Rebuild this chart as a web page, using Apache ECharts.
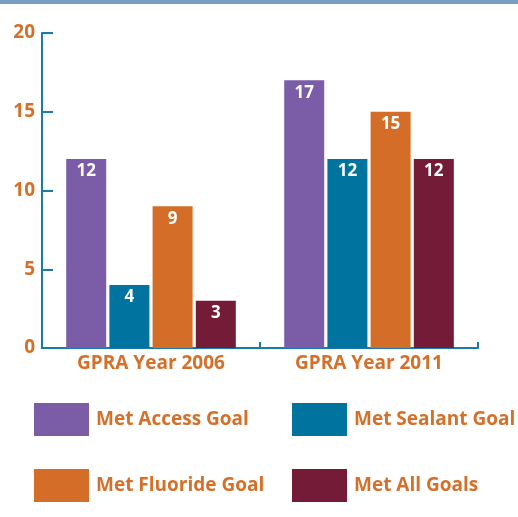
<!DOCTYPE html>
<html><head><meta charset="utf-8">
<script src="https://cdn.jsdelivr.net/npm/echarts@6/dist/echarts.min.js"></script>
<style>html,body{margin:0;padding:0;background:#fff}#c{width:518px;height:517px}</style>
</head><body><div id="c"></div>
<script>
const categories = ['GPRA Year 2006', 'GPRA Year 2011'];
const seriesNames = ['Met Access Goal', 'Met Sealant Goal', 'Met Fluoride Goal', 'Met All Goals'];
const accessGoal = [12, 17];
const sealantGoal = [4, 12];
const fluorideGoal = [9, 15];
const allGoals = [3, 12];
const yTicks = [0, 5, 10, 15, 20];

const colors = ['#7a5ca7', '#00739f', '#d36d27', '#731b37'];
const orange = '#d4702a';
const axisBlue = '#1a7ca6';
const font = '"Open Sans", sans-serif';
const values = [accessGoal, sealantGoal, fluorideGoal, allGoals];

const chart = echarts.init(document.getElementById('c'));
const series = seriesNames.map((n, i) => ({
  name: n, type: 'bar', data: values[i], barWidth: 40, barGap: '8%',
  itemStyle: { color: colors[i] },
  label: { show: true, position: 'insideTop', distance: 4, color: '#fff', fontWeight: 'bold', fontSize: 17, fontFamily: font }
}));
const legendPos = [[34, 403], [292, 403], [34, 469], [292, 469]];
chart.setOption({
  animation: false,
  graphic: [{ type: 'rect', shape: { x: 0, y: 0, width: 518, height: 4 }, style: { fill: '#7b9fc3' } }],
  grid: { left: 42, right: 40, top: 33, bottom: 169 },
  xAxis: {
    type: 'category', data: categories, boundaryGap: true,
    axisLine: { lineStyle: { color: axisBlue, width: 2 } },
    axisTick: { show: true, inside: true, length: 6, lineStyle: { color: axisBlue, width: 2 } },
    axisLabel: { color: orange, fontWeight: 'bold', fontSize: 19, fontFamily: font, margin: 6 }
  },
  yAxis: {
    type: 'value', min: yTicks[0], max: yTicks[yTicks.length - 1], interval: 5,
    splitLine: { show: false },
    axisLine: { show: true, lineStyle: { color: axisBlue, width: 2 } },
    axisTick: { show: true, inside: true, length: 11, lineStyle: { color: axisBlue, width: 2 } },
    axisLabel: { color: orange, fontWeight: 'bold', fontSize: 19, fontFamily: font, margin: 7 }
  },
  legend: seriesNames.map((n, i) => ({
    data: [n], left: legendPos[i][0], top: legendPos[i][1], itemWidth: 55, itemHeight: 33,
    itemGap: 0, padding: 0, icon: 'rect', selectedMode: false,
    textStyle: { color: orange, fontWeight: 'bold', fontSize: 19, fontFamily: font, padding: [4, 0, 0, 2] }
  })),
  series: series
});
</script></body></html>
